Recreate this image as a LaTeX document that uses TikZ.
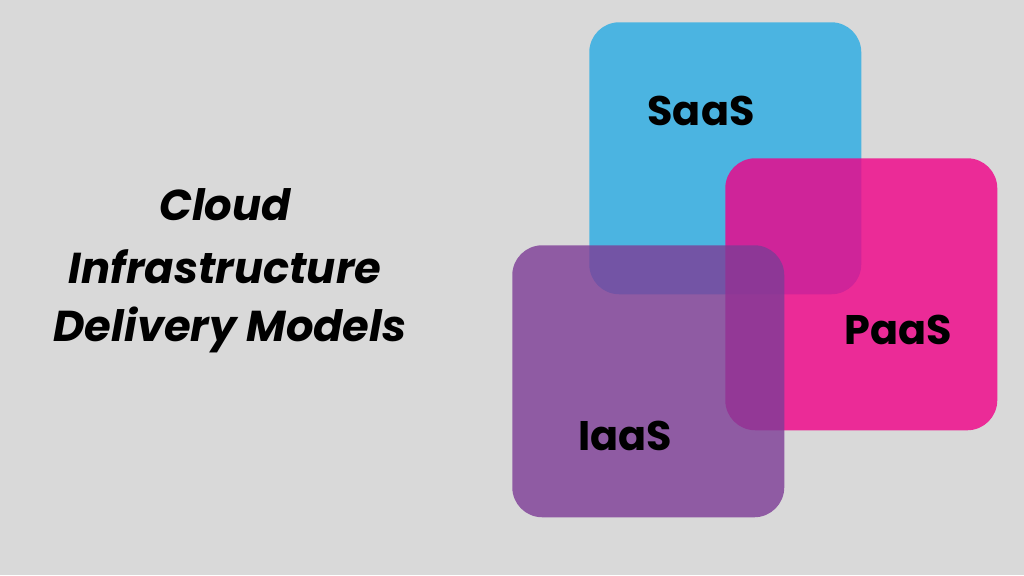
\documentclass[tikz,border=0pt]{standalone}
\usepackage{fontspec}
\setmainfont{Poppins}
\definecolor{bgc}{RGB}{217,217,217}
\definecolor{saasc}{RGB}{40,171,227}
\definecolor{paasc}{RGB}{240,0,135}
\definecolor{iaasc}{RGB}{125,60,150}
\tikzset{
  sqbox/.style={rounded corners=22.5pt, minimum width=204pt, minimum height=204pt, inner sep=0pt, anchor=north west},
  lab/.style={font=\bfseries\fontsize{31pt}{36pt}\selectfont, text=black, inner sep=0pt},
  ttl/.style={font=\bfseries\itshape\fontsize{32.4pt}{36pt}\selectfont, text=black, inner sep=0pt}
}
\begin{document}
\begin{tikzpicture}[x=0.75pt,y=-0.75pt]
\useasboundingbox (0,0) rectangle (1024,575);
\fill[bgc] (0,0) rectangle (1024,575);
\node[sqbox,fill=saasc,fill opacity=0.8] (s) at (589,22) {};
\node[sqbox,fill=paasc,fill opacity=0.8] (p) at (725,158) {};
\node[sqbox,fill=iaasc,fill opacity=0.8] (i) at (512,245) {};
\node[lab] (ts) at (701,111) {SaaS};
\node[lab] (tp) at (898,330) {PaaS};
\node[lab] (ti) at (625,436) {IaaS};
\node[ttl] (t1) at (225,205) {Cloud};
\node[ttl] (t2) at (225,267) {Infrastructure};
\node[ttl] (t3) at (230,330) {Delivery Models};
\end{tikzpicture}
\end{document}
